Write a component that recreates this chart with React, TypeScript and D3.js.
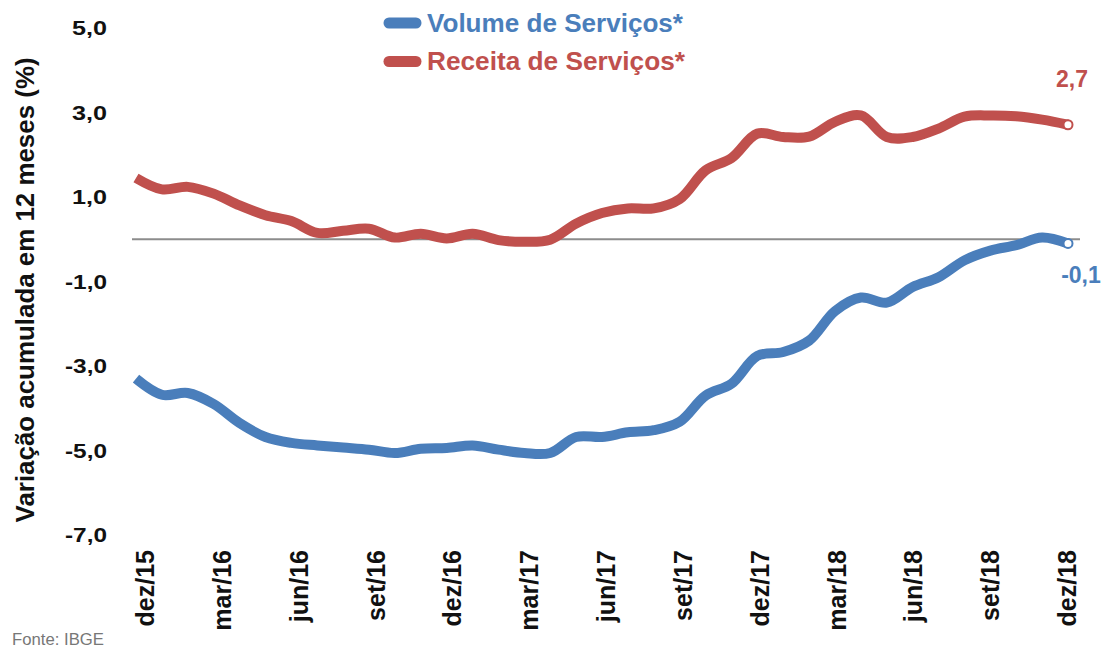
import React from "react";
import * as d3 from "d3";

const months = [
  "dez/15","jan/16","fev/16","mar/16","abr/16","mai/16","jun/16","jul/16","ago/16","set/16","out/16","nov/16",
  "dez/16","jan/17","fev/17","mar/17","abr/17","mai/17","jun/17","jul/17","ago/17","set/17","out/17","nov/17",
  "dez/17","jan/18","fev/18","mar/18","abr/18","mai/18","jun/18","jul/18","ago/18","set/18","out/18","nov/18","dez/18",
];

const volume = [
  -3.3, -3.68, -3.64, -3.9, -4.35, -4.68, -4.82, -4.88, -4.93, -4.98, -5.06, -4.96,
  -4.94, -4.88, -4.98, -5.06, -5.06, -4.68, -4.68, -4.57, -4.52, -4.32, -3.7, -3.42,
  -2.76, -2.67, -2.4, -1.7, -1.38, -1.5, -1.13, -0.9, -0.5, -0.27, -0.14, 0.04, -0.1,
];

const receita = [
  1.45, 1.18, 1.24, 1.08, 0.8, 0.57, 0.43, 0.15, 0.2, 0.25, 0.04, 0.13,
  0.02, 0.13, -0.02, -0.06, -0.01, 0.37, 0.62, 0.73, 0.73, 0.95, 1.63, 1.92,
  2.5, 2.42, 2.43, 2.78, 2.93, 2.42, 2.42, 2.62, 2.9, 2.93, 2.91, 2.83, 2.71,
];

const yTicks = [5, 3, 1, -1, -3, -5, -7];
const seriesNames = ["Volume de Serviços*", "Receita de Serviços*"];
const endLabels = ["-0,1", "2,7"];

const BLUE = "#4a7ebb";
const RED = "#c0504d";
const FONT = "'Liberation Sans', Arial, sans-serif";

export default function App() {
  const W = 1107, H = 648;
  const x = d3.scaleLinear().domain([0, months.length - 1]).range([136, 1068]);
  const xl = d3.scaleLinear().domain([0, months.length - 1]).range([145, 1067]);
  const y = d3.scaleLinear().domain([-7, 5]).range([535, 28]);
  const line = d3
    .line<number>()
    .x((_, i) => x(i))
    .y((d) => y(d))
    .curve(d3.curveCatmullRom.alpha(0.5));

  const fmt = (v: number) => v.toFixed(1).replace(".", ",");
  const last = months.length - 1;
  const tickIdx = months.map((_, i) => i).filter((i) => i % 3 === 0);

  return (
    <svg width={W} height={H} style={{ position: "absolute", left: 0, top: 0, background: "#fff" }} fontFamily={FONT}>
      {/* y tick labels */}
      {yTicks.map((t) => (
        <text
          key={t}
          x={107}
          y={y(t)}
          dy="0.36em"
          textAnchor="end"
          fontSize={20}
          fontWeight="bold"
          fill="#111"
          textLength={t < 0 ? 42 : 35}
          lengthAdjust="spacingAndGlyphs"
        >
          {fmt(t)}
        </text>
      ))}
      {/* y axis title */}
      <text
        transform={`translate(34,${y(-1.2)}) rotate(-90)`}
        textAnchor="middle"
        fontSize={25}
        fontWeight="bold"
        fill="#111"
        textLength={465}
        lengthAdjust="spacingAndGlyphs"
      >
        Variação acumulada em 12 meses (%)
      </text>
      {/* x labels */}
      {tickIdx.map((i) => (
        <text
          key={i}
          transform={`translate(${xl(i)},550) rotate(-90)`}
          dy="0.36em"
          textAnchor="end"
          fontSize={25}
          fontWeight="bold"
          fill="#111"
        >
          {months[i]}
        </text>
      ))}
      {/* zero line */}
      <line x1={132} x2={1080} y1={y(0)} y2={y(0)} stroke="#8c8c8c" strokeWidth={2} />
      {/* series */}
      <path d={line(receita) || ""} fill="none" stroke={RED} strokeWidth={10} strokeLinejoin="round" />
      <path d={line(volume) || ""} fill="none" stroke={BLUE} strokeWidth={10} strokeLinejoin="round" />
      <circle cx={x(last)} cy={y(receita[last])} r={4.5} fill="#fff" stroke={RED} strokeWidth={2} />
      <circle cx={x(last)} cy={y(volume[last])} r={4.5} fill="#fff" stroke={BLUE} strokeWidth={2} />
      {/* end labels */}
      <text x={1072} y={87} textAnchor="middle" fontSize={23} fontWeight="bold" fill={RED}>
        {endLabels[1]}
      </text>
      <text x={1081} y={283} textAnchor="middle" fontSize={23} fontWeight="bold" fill={BLUE}>
        {endLabels[0]}
      </text>
      {/* legend */}
      {seriesNames.map((n, k) => (
        <g key={n}>
          <line
            x1={389}
            x2={416}
            y1={k === 0 ? 23 : 61.5}
            y2={k === 0 ? 23 : 61.5}
            stroke={k === 0 ? BLUE : RED}
            strokeWidth={11}
            strokeLinecap="round"
          />
          <text
            x={427}
            y={k === 0 ? 32 : 70}
            fontSize={25}
            fontWeight="bold"
            fill={k === 0 ? BLUE : RED}
            textLength={k === 0 ? 256 : 258}
            lengthAdjust="spacingAndGlyphs"
          >
            {n}
          </text>
        </g>
      ))}
      {/* source */}
      <text x={12} y={645} fontSize={17} fill="#777" textLength={92} lengthAdjust="spacingAndGlyphs">
        Fonte: IBGE
      </text>
    </svg>
  );
}
